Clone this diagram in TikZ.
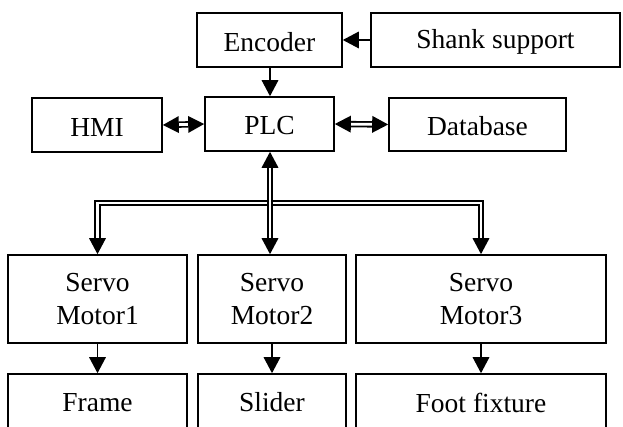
\documentclass[tikz,border=0pt]{standalone}
\usepackage{fontspec}
\setmainfont{Liberation Serif}
\usetikzlibrary{arrows.meta}
\newcommand{\lowtxt}[1]{\raisebox{-2pt}[\height][\depth]{#1}}
\newcommand{\hightxt}[1]{\raisebox{4.5pt}[\height][\depth]{#1}}
\begin{document}
\begin{tikzpicture}[x=1pt,y=-1pt,
  box/.style={draw,line width=1.6pt,inner sep=0pt,align=center,
    font=\fontsize{27.5}{33}\selectfont},
  tip/.tip={Triangle[length=16pt,width=16.5pt]},
  single/.style={line width=1.6pt,-{tip}},
  dbl/.style={line width=1.8pt,double,double distance=2.8pt}]
\useasboundingbox (0,0) rectangle (623,427);
\clip (0,0) rectangle (623,427);
\node[box,minimum width=145pt,minimum height=54pt] (enc) at (269.5,40) {\lowtxt{Encoder}};
\node[box,minimum width=249pt,minimum height=54pt] (shank) at (495.5,40) {\lowtxt{Shank support}};
\node[box,minimum width=130pt,minimum height=54pt] (hmi) at (97,125) {\lowtxt{HMI}};
\node[box,minimum width=129pt,minimum height=54pt] (plc) at (269.5,124) {\lowtxt{PLC}};
\node[box,minimum width=177pt,minimum height=53pt] (db) at (477.5,124.5) {\lowtxt{Database}};
\node[box,minimum width=179pt,minimum height=88pt] (s1) at (97.5,299) {Servo\\Motor1};
\node[box,minimum width=148pt,minimum height=88pt] (s2) at (272,299) {Servo\\Motor2};
\node[box,minimum width=250pt,minimum height=88pt] (s3) at (481,299) {Servo\\Motor3};
\node[box,minimum width=179pt,minimum height=66pt] (frame) at (97.5,407) {\hightxt{Frame}};
\node[box,minimum width=148pt,minimum height=66pt] (slider) at (272,407) {\hightxt{Slider}};
\node[box,minimum width=250pt,minimum height=66pt] (foot) at (481,407) {\hightxt{Foot fixture}};
\coordinate (bus) at (270,203);
% single arrows
\draw[single] (shank.west) -- (enc.east);
\draw[single] (enc.south -| bus) -- (plc.north -| bus);
\draw[single] (s1.south) -- (frame.north);
\draw[single] (s2.south) -- (slider.north);
\draw[single] (s3.south) -- (foot.north);
% double arrows
\draw[dbl,{tip}-{tip}] (hmi.east) -- (plc.west);
\draw[dbl,{tip}-{tip}] (plc.east) -- (db.west);
\draw[dbl,{tip}-{tip}] (s1.north) -- (s1.north |- bus) -- (s3.north |- bus) -- (s3.north);
\draw[dbl,{tip}-{tip}] (plc.south -| bus) -- (bus |- s2.north);
\end{tikzpicture}
\end{document}
